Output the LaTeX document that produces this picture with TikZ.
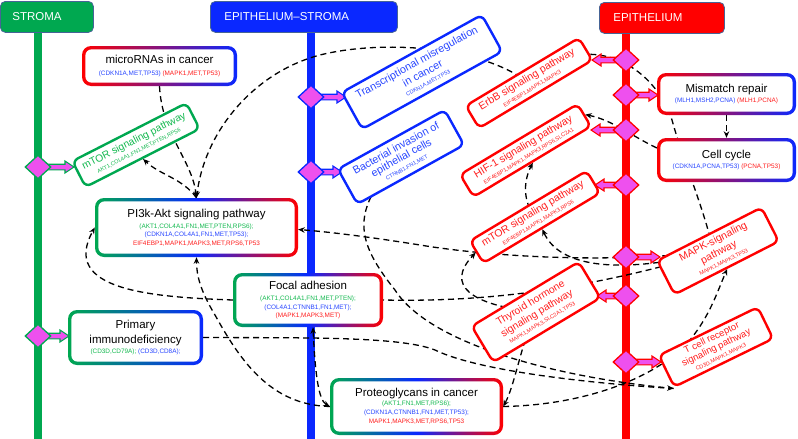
\documentclass[tikz,border=0pt]{standalone}
\usepackage{fontspec}
\setmainfont{Liberation Sans}
\usetikzlibrary{arrows.meta,shapes.geometric}
\pgfdeclarelayer{back}
\pgfdeclarelayer{mid}
\pgfsetlayers{back,mid,main}
\definecolor{gbar}{RGB}{0,168,80}
\definecolor{bbar}{RGB}{10,40,255}
\definecolor{rbar}{RGB}{255,0,0}
\definecolor{pinkd}{RGB}{238,80,238}
\definecolor{gtxt}{RGB}{20,185,80}
\definecolor{btxt}{RGB}{40,70,255}
\definecolor{rtxt}{RGB}{255,30,30}
\definecolor{hdrb}{RGB}{70,100,150}
\newcommand\setfs[2]{\fontsize{#1}{#2}\selectfont}
\newcommand\txg[1]{\textcolor{gtxt}{#1}}
\newcommand\txb[1]{\textcolor{btxt}{#1}}
\newcommand\txr[1]{\textcolor{rtxt}{#1}}
\newcommand\parrow[4]{\filldraw[fill=pinkd,draw=#4,line width=1.1pt,line join=miter,shift={(#1.center)},xscale=#2] (#3,0) -- (#3-9,-6) -- (#3-9,-2.8) -- (0,-2.8) -- (0,2.8) -- (#3-9,2.8) -- (#3-9,6) -- cycle;}
\begin{document}
\begin{tikzpicture}[x=1pt,y=-1pt,
 hdr/.style={rounded corners=5pt, draw=hdrb, line width=0.8pt, text=white, font=\setfs{11.5}{13}, minimum height=31pt, anchor=north west, align=left},
 gbox/.style={rounded corners=9pt, align=center, inner sep=0pt, font=\setfs{6.4}{8.5},
   path picture={\fill[white,rounded corners=6pt] ([shift={(3.4pt,3.4pt)}]path picture bounding box.south west) rectangle ([shift={(-3.4pt,-3.4pt)}]path picture bounding box.north east);}},
 rbox/.style={draw, fill=white, line width=2.4pt, rounded corners=6pt, align=center, inner sep=0pt, font=\setfs{5.5}{9.5}},
 dmd/.style={diamond, fill=pinkd, line width=1.3pt, minimum width=26pt, minimum height=24pt, inner sep=0pt},
 edge/.style={line width=1.3pt, dash pattern=on 6pt off 4pt, -{Stealth[length=6.5pt,width=5.5pt]}},
 edgeplain/.style={line width=1.3pt, dash pattern=on 6pt off 4pt},
 edgeboth/.style={line width=1.3pt, dash pattern=on 6pt off 4pt, {Stealth[length=6.5pt,width=5.5pt]}-{Stealth[length=6.5pt,width=5.5pt]}},
 bar/.style={line width=8.5pt}]
\useasboundingbox (0,0) rectangle (798,439);

% headers
\node[hdr, fill=gbar, minimum width=93pt, text width=69pt, inner xsep=12pt] (hS) at (0,1) {STROMA};
\node[hdr, fill=bbar, minimum width=187pt, text width=159pt, inner xsep=14pt] (hES) at (210,1) {EPITHELIUM–STROMA};
\node[hdr, fill=rbar, minimum width=125pt, text width=97pt, inner xsep=14pt] (hE) at (599,2) {EPITHELIUM};

\begin{pgfonlayer}{back}
\draw[bar,gbar] (38,31) -- (38,440);
\draw[bar,bbar] (311,31) -- (311,440);
\draw[bar,rbar] (626,32) -- (626,440);
\end{pgfonlayer}

% diamonds
\node[dmd, draw=gbar] (dg1) at (38,167) {};
\node[dmd, draw=gbar] (dg2) at (38,336) {};
\node[dmd, draw=bbar] (db1) at (311,97) {};
\node[dmd, draw=bbar] (db2) at (311,172) {};
\node[dmd, draw=rbar] (dr1) at (626,60) {};
\node[dmd, draw=rbar] (dr2) at (626,95) {};
\node[dmd, draw=rbar] (dr3) at (626,130) {};
\node[dmd, draw=rbar] (dr4) at (626,185) {};
\node[dmd, draw=rbar] (dr5) at (626,257) {};
\node[dmd, draw=rbar] (dr6) at (626,296) {};
\node[dmd, draw=rbar] (dr7) at (626,362) {};

% gradient boxes
\node[gbox, left color=rbar, right color=bbar, minimum width=155pt, minimum height=40pt] (mirna) at (159.5,66)
 {\setfs{11.5}{13}microRNAs in cancer\\[3pt]\txb{(CDKN1A,MET,TP53)} \txr{(MAPK1,MET,TP53)}};
\node[gbox, left color=gbar, right color=rbar, middle color=bbar, minimum width=203pt, minimum height=59pt] (pi3k) at (196.5,227.5)
 {\setfs{11.5}{13}PI3k-Akt signaling pathway\\[2.5pt]\txg{(AKT1,COL4A1,FN1,MET,PTEN,RPS6);}\\\txb{(CDKN1A,COL4A1,FN1,MET,TP53);}\\\txr{EIF4EBP1,MAPK1,MAPK3,MET,RPS6,TP53}};
\node[gbox, left color=gbar, right color=rbar, middle color=bbar, minimum width=150pt, minimum height=54pt] (focal) at (308,300)
 {\setfs{11.5}{13}Focal adhesion\\[2.5pt]\txg{(AKT1,COL4A1,FN1,MET,PTEN);}\\\txb{(COL4A1,CTNNB1,FN1,MET);}\\\txr{(MAPK1,MAPK3,MET)}};
\node[gbox, left color=gbar, right color=bbar, minimum width=135pt, minimum height=55pt] (prim) at (135.5,337.5)
 {\setfs{11.5}{13}Primary\\[2.5pt]\setfs{11.5}{13}immunodeficiency\\[1.5pt]\txg{(CD3D,CD79A);} \txb{(CD3D,CD8A);}};
\node[gbox, left color=gbar, right color=rbar, middle color=bbar, minimum width=173pt, minimum height=57pt] (proteo) at (416.5,406.5)
 {\setfs{11.5}{13}Proteoglycans in cancer\\[0.5pt]\txg{(AKT1,FN1,MET,RPS6);}\\[0.5pt]\txb{(CDKN1A,CTNNB1,FN1,MET,TP53);}\\[0.5pt]\txr{MAPK1,MAPK3,MET,RPS6,TP53}};
\node[gbox, left color=rbar, right color=bbar, minimum width=139pt, minimum height=42pt] (mism) at (726.5,94)
 {\setfs{11.5}{13}Mismatch repair\\[1.5pt]\txb{(MLH1,MSH2,PCNA)} \txr{(MLH1,PCNA)}};
\node[gbox, left color=rbar, right color=bbar, minimum width=139pt, minimum height=44pt] (ccyc) at (726.5,160)
 {\setfs{11.5}{13}Cell cycle\\[1.5pt]\txb{(CDKN1A,PCNA,TP53)} \txr{(PCNA,TP53)}};

% rotated boxes
\node[rbox, draw=gbar, text=gtxt, rotate=27, minimum width=128pt, minimum height=29pt] (mtors) at (136,145)
 {\setfs{10.3}{12}mTOR signaling pathway\\AKT1,COL4A1,FN1,MET,PTEN,RPS6};
\node[rbox, draw=bbar, text=btxt, rotate=29, minimum width=160pt, minimum height=42pt] (trans) at (422,72)
 {\setfs{10.8}{12}Transcriptional misregulation\\[1.5pt]\setfs{10.8}{12}in cancer\\CDKN1A,MET,TP53};
\node[rbox, draw=bbar, text=btxt, rotate=29, minimum width=122pt, minimum height=40pt] (bact) at (401,157)
 {\setfs{10.8}{12}Bacterial invasion of\\[1.5pt]\setfs{10.8}{12}epithelial cells\\CTNNB1,FN1,MET};
\node[rbox, draw=rbar, text=rtxt, rotate=31, minimum width=132pt, minimum height=26pt] (erbb) at (529,83)
 {\setfs{10.5}{12}ErbB signaling pathway\\EIF4EBP1,MAPK1,MAPK3};
\node[rbox, draw=rbar, text=rtxt, rotate=31, minimum width=137pt, minimum height=26pt] (hif) at (525.5,150.5)
 {\setfs{10.5}{12}HIF-1 signaling pathway\\EIF4EBP1,MAPK1,MAPK3,RPS6,SLC2A1};
\node[rbox, draw=rbar, text=rtxt, rotate=31, minimum width=136pt, minimum height=26pt] (mtore) at (535,217)
 {\setfs{10.5}{12}mTOR signaling pathway\\EIF4EBP1,MAPK1,MAPK3,RPS6};
\node[rbox, draw=rbar, text=rtxt, rotate=31, minimum width=125pt, minimum height=42pt] (thyr) at (536,312)
 {\setfs{10.3}{12}Thyroid hormone\\[1.5pt]\setfs{10.3}{12}signaling pathway\\MAPK1,MAPK3,SLC2A1,TP53};
\node[rbox, draw=rbar, text=rtxt, rotate=27, minimum width=117pt, minimum height=38pt] (mapk) at (718,251)
 {\setfs{10.5}{12}MAPK-signaling\\[1.5pt]\setfs{10.5}{12}pathway\\MAPK1,MAPK3,TP53};
\node[rbox, draw=rbar, text=rtxt, rotate=26, minimum width=110pt, minimum height=35pt] (tcell) at (716,347)
 {\setfs{9.5}{11}T cell receptor\\[1pt]\setfs{9.5}{11}signaling pathway\\CD3D,MAPK1,MAPK3};

\begin{pgfonlayer}{mid}
% dashed relations
\draw[edge] (mirna.south) .. controls (162,135) and (192,160) .. (pi3k.north);
\draw[edge] (erbb.center) .. controls (480,45) and (380,40) .. (320,55) .. controls (255,72) and (205,130) .. (pi3k.north);
\draw[edge] (pi3k.north) .. controls (182,178) and (160,175) .. (mtors.south);
\draw[edgeplain] (erbb.center) .. controls (575,30) and (650,55) .. (672,120) .. controls (680,150) and (700,200) .. (mapk.north);
\draw[edge] ([yshift=12pt]ccyc.west) .. controls (630,135) and (612,120) .. (hif.east);
\draw[edge] (mism.south) -- (ccyc.north);
\draw[edge] (mtore.center) .. controls (522,200) and (524,180) .. (hif.south);
\draw[edge] (mapk.center) .. controls (620,275) and (560,268) .. (mtore.south);
\draw[edgeplain] (focal.center) -- (focal.east) .. controls (480,302) and (580,292) .. (mapk.center);
\draw[edge] (mapk.center) .. controls (600,265) and (480,255) .. (420,245) .. controls (370,237) and (330,232) .. ([yshift=-2pt]pi3k.east);
\draw[edge] (thyr.center) .. controls (470,305) and (445,285) .. (mtore.west);
\draw[edge] (prim.east) .. controls (300,338) and (400,336) .. (435,350) .. controls (480,372) and (600,384) .. (tcell.south west);
\draw[edgeplain] (bact.center) .. controls (350,210) and (355,240) .. (395,290) .. controls (430,345) and (560,378) .. (tcell.south west);
\draw[edge] (proteo.east) .. controls (590,405) and (660,375) .. (690,340) .. controls (710,315) and (716,295) .. (mapk.south);
\draw[edge] (thyr.center) .. controls (522,340) and (515,385) .. (proteo.east);
\draw[edgeboth] ([xshift=5pt]focal.south) .. controls (315,370) and (318,400) .. (proteo.west);
\draw[edge] (proteo.west) .. controls (270,405) and (240,360) .. (215,315) .. controls (200,290) and (196.5,275) .. (pi3k.south);
\draw[edge] (focal.west) .. controls (150,297) and (60,290) .. (pi3k.west);
% pink arrows from the diamonds
\parrow{dg1}{1}{36}{gbar}
\parrow{dg2}{1}{31}{gbar}
\parrow{db1}{1}{35}{bbar}
\parrow{db2}{1}{31}{bbar}
\parrow{dr1}{-1}{34}{rbar}
\parrow{dr2}{1}{32}{rbar}
\parrow{dr3}{-1}{35}{rbar}
\parrow{dr4}{-1}{31}{rbar}
\parrow{dr5}{1}{34}{rbar}
\parrow{dr6}{-1}{29}{rbar}
\parrow{dr7}{1}{35}{rbar}
\end{pgfonlayer}
\end{tikzpicture}
\end{document}
